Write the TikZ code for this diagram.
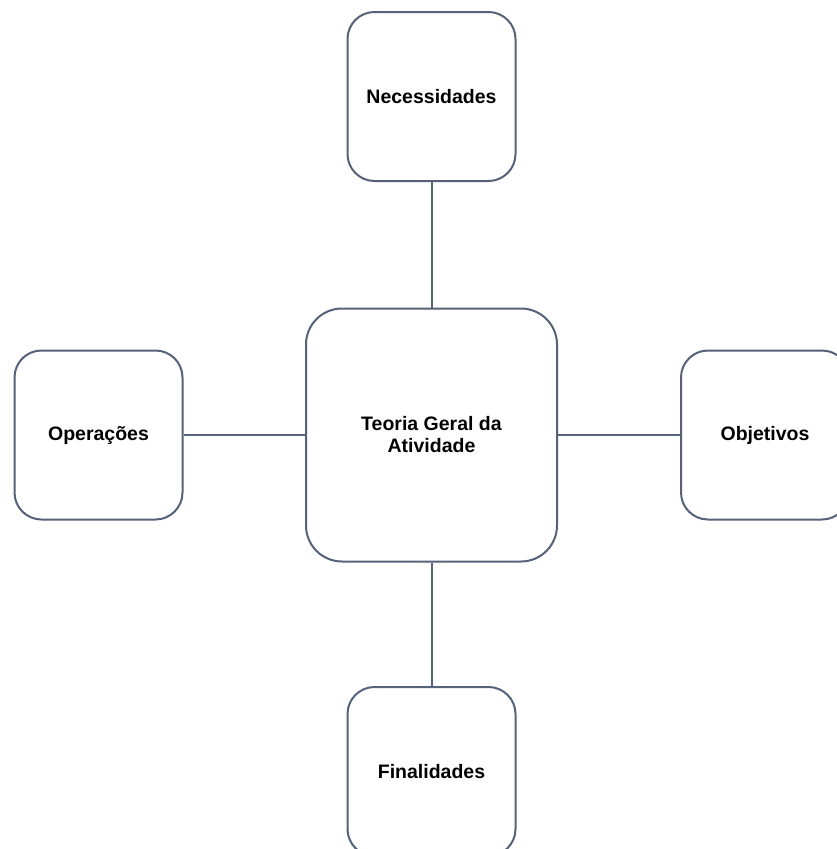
\documentclass[tikz,border=0pt]{standalone}
\usepackage{fontspec}
\setmainfont{Liberation Sans}
\definecolor{edge}{HTML}{56627A}
\begin{document}
\begin{tikzpicture}[x=1pt,y=-1pt,
  box/.style={draw=edge, line width=2pt, rounded corners=27pt, fill=white,
    minimum width=168pt, minimum height=169pt, inner sep=0pt, align=center,
    font=\fontsize{19.5}{22}\selectfont\bfseries},
  bigbox/.style={box, rounded corners=36pt, minimum width=251pt, minimum height=253pt},
  link/.style={draw=edge, line width=2pt}]
\useasboundingbox[fill=white] (0,0) rectangle (837,849);
\node[bigbox] (c) at (431.5,435) {Teoria Geral da\\Atividade};
\node[box] (n) at (431.5,96.5) {Necessidades};
\node[box] (o) at (98.5,435) {Operações};
\node[box] (b) at (765,435) {Objetivos};
\node[box] (f) at (431.5,771.5) {Finalidades};
\draw[link] (n) -- (c);
\draw[link] (o) -- (c);
\draw[link] (c) -- (b);
\draw[link] (c) -- (f);
\end{tikzpicture}
\end{document}
